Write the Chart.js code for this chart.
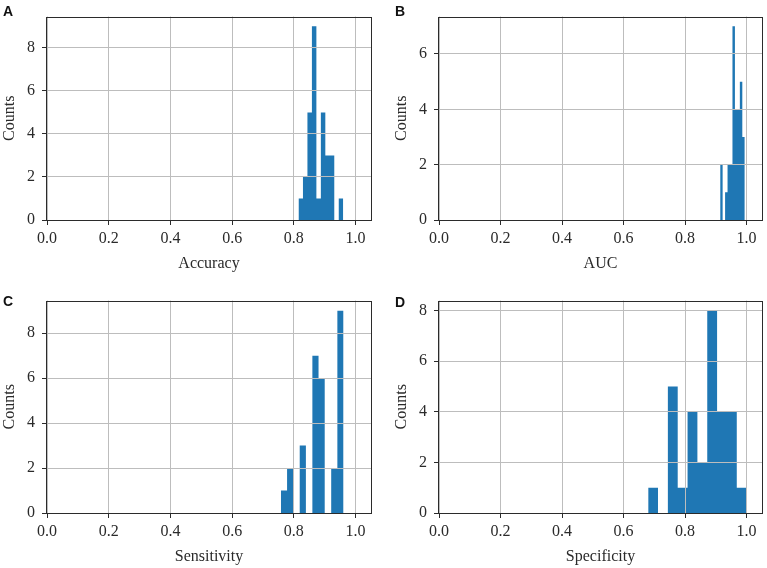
<!DOCTYPE html>
<html>
<head>
<meta charset="utf-8">
<script src="https://cdn.jsdelivr.net/npm/chart.js@4.4.1/dist/chart.umd.min.js"></script>
<style>
  body{margin:0;background:#fff;width:767px;height:568px;position:relative;overflow:hidden}
  .panel{position:absolute}
  .tag{position:absolute;font:bold 14px "Liberation Sans",Arial,sans-serif;line-height:14px;color:#111}
</style>
</head>
<body>
<div class="panel" style="left:0;top:0"><canvas id="chart-a" width="383" height="273"></canvas></div>
<div class="panel" style="left:392px;top:0"><canvas id="chart-b" width="375" height="273"></canvas></div>
<div class="panel" style="left:0;top:284px"><canvas id="chart-c" width="383" height="282"></canvas></div>
<div class="panel" style="left:392px;top:284px"><canvas id="chart-d" width="375" height="282"></canvas></div>
<div class="tag" style="left:3px;top:4px">A</div>
<div class="tag" style="left:395px;top:4px">B</div>
<div class="tag" style="left:3px;top:294px">C</div>
<div class="tag" style="left:395px;top:295px">D</div>

<script>
// Histogram bins (30 folds per metric)
const ACC_EDGES = [0.815,0.8295,0.844,0.8585,0.873,0.8875,0.902,0.9165,0.931,0.9455,0.960];
const ACC_COUNTS = [1,2,5,9,1,5,3,3,0,1];

const AUC_EDGES = [0.914,0.922,0.930,0.938,0.946,0.954,0.962,0.970,0.978,0.986,0.994];
const AUC_COUNTS = [2,0,1,2,2,7,4,4,5,3];

const SENS_EDGES = [0.758,0.778,0.799,0.819,0.839,0.860,0.880,0.900,0.921,0.941,0.961];
const SENS_COUNTS = [1,2,0,3,0,7,6,0,2,9];

const SPEC_EDGES = [0.680,0.712,0.744,0.776,0.808,0.840,0.872,0.904,0.936,0.968,1.000];
const SPEC_COUNTS = [1,0,5,1,4,2,8,4,4,1];

// tick labels
const X_TICKS = [0.0,0.2,0.4,0.6,0.8,1.0];
const Y_TICKS_8 = [0,2,4,6,8];
const Y_TICKS_6 = [0,2,4,6];

const BAR = '#1f77b4';
const GRID = '#bdbdbd';
const AXIS = '#2b2b2b';
const TEXT = '#2a2a2a';

Chart.defaults.font.family = '"Liberation Serif","Times New Roman",serif';
Chart.defaults.font.size = 16;

// matplotlib style box round the plot area
const framePlugin = {
  id: 'frame',
  afterDraw(chart){
    const {ctx, chartArea:a} = chart;
    ctx.save();
    ctx.strokeStyle = AXIS;
    ctx.lineWidth = 1;
    ctx.strokeRect(Math.round(a.left)-0.5, Math.round(a.top)+0.5, Math.round(a.right-a.left)+1, Math.round(a.bottom-a.top));
    ctx.restore();
  }
};

function makeHist(id, edges, counts, xTitle, yMax, yTicks, pad){
  // step points: each edge carries the count of the bin that starts there
  const pts = edges.map((e,i)=>({x:e, y: i<counts.length ? counts[i] : 0}));
  return new Chart(document.getElementById(id), {
    type:'line',
    data:{datasets:[{data:pts, stepped:'before', fill:'origin', backgroundColor:BAR,
      borderColor:'rgba(0,0,0,0)', borderWidth:0, pointRadius:0}]},
    options:{
      responsive:false, animation:false,
      layout:{padding:pad},
      plugins:{legend:{display:false}, tooltip:{enabled:false}},
      scales:{
        x:{type:'linear', min:0, max:1.05,
          afterBuildTicks:s=>{ s.ticks = X_TICKS.map(v=>({value:v})); },
          afterFit:s=>{ s.height = 53; },
          grid:{color:GRID, tickColor:AXIS, tickLength:5, z:1},
          border:{display:false},
          ticks:{padding:4, color:TEXT, maxRotation:0, autoSkip:false, callback:v=>Number(v).toFixed(1)},
          title:{display:true, text:xTitle, color:TEXT, padding:0}},
        y:{type:'linear', min:0, max:yMax,
          afterBuildTicks:s=>{ s.ticks = yTicks.map(v=>({value:v})); },
          afterFit:s=>{ s.width = 47; },
          grid:{color:GRID, tickColor:AXIS, tickLength:5, z:1},
          border:{display:false},
          ticks:{padding:7, color:TEXT, callback:v=>String(v)},
          title:{display:true, text:'Counts', color:TEXT, padding:0}}
      }
    },
    plugins:[framePlugin]
  });
}

makeHist('chart-a', ACC_EDGES, ACC_COUNTS, 'Accuracy', 9.45, Y_TICKS_8, {top:5, right:12, left:0, bottom:0});
makeHist('chart-b', AUC_EDGES, AUC_COUNTS, 'AUC', 7.35, Y_TICKS_6, {top:5, right:5, left:0, bottom:0});
makeHist('chart-c', SENS_EDGES, SENS_COUNTS, 'Sensitivity', 9.45, Y_TICKS_8, {top:13, right:12, left:0, bottom:0});
makeHist('chart-d', SPEC_EDGES, SPEC_COUNTS, 'Specificity', 8.4, Y_TICKS_8, {top:13, right:5, left:0, bottom:0});
</script>
</body>
</html>
